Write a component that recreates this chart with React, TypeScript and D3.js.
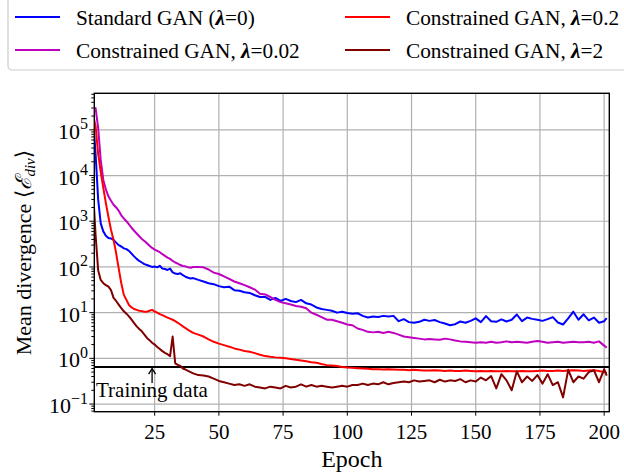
import React from "react";
import * as d3 from "d3";

const EPOCHS = [
  1, 2, 3, 4, 5, 6, 7, 8, 9, 10, 11, 12, 13, 14, 15, 16, 17, 18, 19, 20,
  21, 22, 23, 24, 25, 26, 27, 28, 29, 30, 31, 32, 33, 34, 35, 36, 37, 38, 39, 40,
  42, 44, 46, 48, 50, 52, 54, 56, 58, 60, 62, 64, 66, 68, 70, 72, 74, 76, 78, 80,
  82, 84, 86, 88, 90, 92, 94, 96, 98, 100, 102, 104, 106, 108, 110, 112, 114, 116, 118, 120,
  122, 124, 126, 128, 130, 132, 134, 136, 138, 140, 142, 144, 146, 148, 150, 152, 154, 156, 158, 160,
  162, 164, 166, 168, 170, 172, 174, 176, 178, 180, 182, 184, 186, 188, 190, 192, 194, 196, 198, 200,
  201,
];

const STANDARD = [
  2e5, 3e4, 3000, 900, 600, 480, 430, 420, 390, 340, 300, 280, 255, 245, 225, 195, 170, 150, 135, 125,
  115, 110, 105, 100, 102, 98, 106, 92, 90, 86, 92, 76, 72, 70, 73, 66, 61, 58, 56, 57,
  52, 48, 44, 42, 38, 36, 37, 31, 30, 28, 27, 24, 22, 22, 19, 21, 18, 20, 18, 17,
  19, 16, 15, 13, 12, 11.5, 11, 10, 10.5, 9.8, 9.5, 9.7, 8.5, 7.8, 8.2, 8.0, 8.5, 8.2, 8.5, 6.5,
  7.2, 6.2, 6.0, 6.3, 7.0, 6.6, 6.9, 6.2, 5.8, 5.3, 5.6, 6.4, 6.0, 6.6, 7.5, 6.2, 8.4, 6.5, 6.3, 7.1,
  6.4, 7.0, 9.1, 6.5, 7.8, 7.3, 7.0, 6.6, 7.2, 8.0, 6.1, 5.5, 7.5, 10.5, 7.0, 9.2, 6.8, 7.8, 6.0, 6.5,
  7.6,
];

const LAMBDA_002 = [
  2.5e5, 3e5, 1.1e5, 2.2e4, 8000, 5000, 3500, 2800, 2300, 2000, 1700, 1350, 1150, 1000, 850, 720, 620, 540, 470, 410,
  370, 330, 290, 260, 240, 225, 210, 190, 175, 160, 150, 135, 125, 118, 110, 105, 103, 98, 96, 100,
  100, 98, 88, 75, 70, 62, 55, 48, 44, 40, 36, 32, 26, 25, 22, 19, 17, 16, 15, 14,
  13.5, 12.5, 10, 9, 8, 7, 7, 6.5, 6, 5.5, 5.3, 4.5, 4.2, 3.8, 3.7, 3.8, 3.6, 3.8, 3.6, 3.3,
  3.0, 2.9, 2.8, 2.7, 2.6, 2.65, 2.6, 2.55, 2.7, 2.6, 2.45, 2.35, 2.3, 2.25, 2.2, 2.25, 2.2, 2.3, 2.2, 2.25,
  2.35, 2.25, 2.3, 2.25, 2.2, 2.3, 2.4, 2.3, 2.2, 2.25, 2.3, 2.2, 2.25, 2.3, 2.25, 2.25, 2.3, 2.2, 2.35, 1.9,
  1.7,
];

const LAMBDA_02 = [
  2.2e5, 1.2e5, 3e4, 1.2e4, 5400, 2500, 1250, 650, 390, 200, 93, 44, 24.5, 19, 14.7, 13, 12, 11.5, 11, 10.8,
  10.5, 10.5, 11, 11.5, 10.6, 10, 9.3, 8.8, 8.3, 7.8, 7.4, 7.0, 6.5, 6.0, 5.5, 5.0, 4.6, 4.2, 3.9, 3.6,
  3.3, 3.0, 2.6, 2.3, 2.1, 1.95, 1.8, 1.65, 1.55, 1.45, 1.4, 1.3, 1.2, 1.12, 1.08, 1.05, 1.03, 1.0, 0.97, 0.93,
  0.9, 0.86, 0.82, 0.8, 0.75, 0.71, 0.7, 0.68, 0.65, 0.63, 0.62, 0.61, 0.6, 0.59, 0.58, 0.58, 0.57, 0.58, 0.57, 0.56,
  0.56, 0.55, 0.56, 0.55, 0.54, 0.54, 0.55, 0.54, 0.53, 0.54, 0.53, 0.53, 0.54, 0.53, 0.52, 0.53, 0.52, 0.53, 0.52, 0.52,
  0.53, 0.52, 0.52, 0.53, 0.52, 0.52, 0.53, 0.54, 0.53, 0.53, 0.54, 0.53, 0.54, 0.55, 0.54, 0.53, 0.54, 0.55, 0.53, 0.5,
  0.48,
];

const LAMBDA_2 = [
  5000, 500, 85, 52, 44, 40, 37, 31, 21, 18, 15, 12.6, 10.7, 9.5, 8.3, 7, 5.9, 5, 4.4, 3.9,
  3.3, 2.8, 2.5, 2.2, 2.0, 1.78, 1.6, 1.44, 1.32, 1.23, 1.12, 3.0, 0.78, 0.72, 0.68, 0.6, 0.57, 0.53, 0.5, 0.47,
  0.43, 0.42, 0.4, 0.36, 0.32, 0.3, 0.28, 0.26, 0.27, 0.25, 0.27, 0.24, 0.23, 0.22, 0.24, 0.23, 0.22, 0.25, 0.23, 0.24,
  0.27, 0.24, 0.26, 0.24, 0.25, 0.24, 0.23, 0.24, 0.25, 0.24, 0.26, 0.26, 0.28, 0.26, 0.28, 0.27, 0.3, 0.27, 0.29, 0.3,
  0.31, 0.3, 0.33, 0.31, 0.32, 0.33, 0.3, 0.34, 0.31, 0.33, 0.32, 0.35, 0.3, 0.33, 0.31, 0.38, 0.33, 0.41, 0.22, 0.45,
  0.33, 0.2, 0.52, 0.3, 0.4, 0.32, 0.43, 0.28, 0.45, 0.26, 0.3, 0.14, 0.56, 0.3, 0.4, 0.36, 0.5, 0.55, 0.3, 0.58,
  0.42,
];

const TRAINING_DATA = 0.645;
const TRAINING_ARROW_EPOCH = 24;
const X_TICKS = [25, 50, 75, 100, 125, 150, 175, 200];
const Y_TICK_EXP = [-1, 0, 1, 2, 3, 4, 5];

const SERIES = [
  { name: "Standard GAN (", lam: "=0)", color: "#0000ff", values: STANDARD },
  { name: "Constrained GAN, ", lam: "=0.02", color: "#bf00bf", values: LAMBDA_002 },
  { name: "Constrained GAN, ", lam: "=0.2", color: "#ff0000", values: LAMBDA_02 },
  { name: "Constrained GAN, ", lam: "=2", color: "#800000", values: LAMBDA_2 },
];

const FONT = '"Liberation Serif", "Times New Roman", "DejaVu Serif", serif';
const TS: React.CSSProperties = { fontFamily: FONT };

export default function App() {
  const L = 94.3, R = 609.3, T = 93.3, B = 411.7;
  const x = d3.scaleLinear().domain([1.5, 202]).range([L, R]);
  const y = d3.scaleLog().domain([0.068, 6.3e5]).range([B, T]);

  const line = d3
    .line<[number, number]>()
    .x((d) => x(d[0]))
    .y((d) => y(d[1]));

  const minor: number[] = [];
  for (let k = -2; k <= 5; k++) {
    for (let m = 2; m <= 9; m++) {
      const v = m * Math.pow(10, k);
      if (v >= 0.068 && v <= 6.3e5) minor.push(v);
    }
  }

  const ty = y(TRAINING_DATA);
  const ax = x(TRAINING_ARROW_EPOCH);

  const legendPos = [
    { lx: 13, ly: 17 },
    { lx: 13, ly: 50 },
    { lx: 343, ly: 17 },
    { lx: 343, ly: 50 },
  ];

  return (
    <svg
      width={624}
      height={473}
      style={{ position: "absolute", left: 0, top: 0, background: "#fff", fontFamily: FONT }}
    >
      <defs>
        <clipPath id="plot">
          <rect x={L} y={T} width={R - L} height={B - T} />
        </clipPath>
      </defs>

      {/* Legend */}
      <rect x={8} y={-6} width={640} height={76} rx={4} fill="#fff" stroke="#cccccc" strokeWidth={1.2} />
      {SERIES.map((s, i) => {
        const p = legendPos[i];
        return (
          <g key={i}>
            <line x1={p.lx + 2} x2={p.lx + 47} y1={p.ly} y2={p.ly} stroke={s.color} strokeWidth={2.2} />
            <text x={p.lx + 63} y={p.ly + 7.5} fontSize={21.3} fill="#000" style={TS}>
              {s.name}
              <tspan fontWeight="bold" fontStyle="italic">λ</tspan>
              {s.lam}
            </text>
          </g>
        );
      })}

      {/* Grid */}
      <g stroke="#b0b0b0" strokeWidth={1.2}>
        {X_TICKS.map((t) => (
          <line key={"gx" + t} x1={x(t)} x2={x(t)} y1={T} y2={B} />
        ))}
        {Y_TICK_EXP.map((e) => (
          <line key={"gy" + e} x1={L} x2={R} y1={y(Math.pow(10, e))} y2={y(Math.pow(10, e))} />
        ))}
      </g>

      {/* Training data line */}
      <line x1={L} x2={R} y1={ty} y2={ty} stroke="#000" strokeWidth={2} />

      {/* Series */}
      <g clipPath="url(#plot)" fill="none">
        {SERIES.map((s, i) => {
          const pts: [number, number][] = EPOCHS.slice(0, s.values.length).map((e, j) => [e, s.values[j]]);
          return (
            <path key={i} d={line(pts) || ""} stroke={s.color} strokeWidth={2} strokeLinejoin="round" />
          );
        })}
      </g>

      {/* Arrow + annotation */}
      <g stroke="#000" strokeWidth={1.3} fill="none">
        <line x1={ax} x2={ax} y1={ty + 16} y2={ty + 1.5} />
        <polyline points={`${ax - 3.5},${ty + 7} ${ax},${ty + 1.5} ${ax + 3.5},${ty + 7}`} />
      </g>
      <text x={96} y={397} fontSize={21} fill="#000" style={TS}>Training data</text>

      {/* Frame */}
      <rect x={L} y={T} width={R - L} height={B - T} fill="none" stroke="#000" strokeWidth={1.4} />

      {/* Ticks */}
      <g stroke="#000" strokeWidth={1}>
        {Y_TICK_EXP.map((e) => (
          <line key={"ty" + e} x1={L - 5} x2={L} y1={y(Math.pow(10, e))} y2={y(Math.pow(10, e))} />
        ))}
        {minor.map((v, i) => (
          <line key={"my" + i} x1={L - 3} x2={L} y1={y(v)} y2={y(v)} />
        ))}
        {X_TICKS.map((t) => (
          <line key={"tx" + t} x1={x(t)} x2={x(t)} y1={B} y2={B + 4} />
        ))}
      </g>

      {/* Y tick labels */}
      {Y_TICK_EXP.map((e) => {
        const yy = y(Math.pow(10, e));
        const sup = e < 0 ? "\u2212" + Math.abs(e) : String(e);
        return (
          <text key={"ly" + e} x={88} y={yy + 9} fontSize={22} textAnchor="end" fill="#000" style={TS}>
            10
            <tspan fontSize={16} dy={-9.5}>{sup}</tspan>
          </text>
        );
      })}

      {/* X tick labels */}
      {X_TICKS.map((t) => (
        <text key={"lx" + t} x={x(t)} y={439} fontSize={21} textAnchor="middle" fill="#000" style={TS}>
          {t}
        </text>
      ))}

      {/* Axis labels */}
      <text x={(L + R) / 2} y={467} fontSize={24} textAnchor="middle" fill="#000" style={TS}>
        Epoch
      </text>
      <text
        transform={`translate(31, ${(T + B) / 2}) rotate(-90)`}
        fontSize={22}
        textAnchor="middle"
        fill="#000"
        style={TS}
      >
        Mean divergence ⟨<tspan fontStyle="italic">ℰ</tspan>
        <tspan fontSize={15} fontStyle="italic" dy={4}>div</tspan>
        <tspan dy={-4}>⟩</tspan>
      </text>
    </svg>
  );
}
